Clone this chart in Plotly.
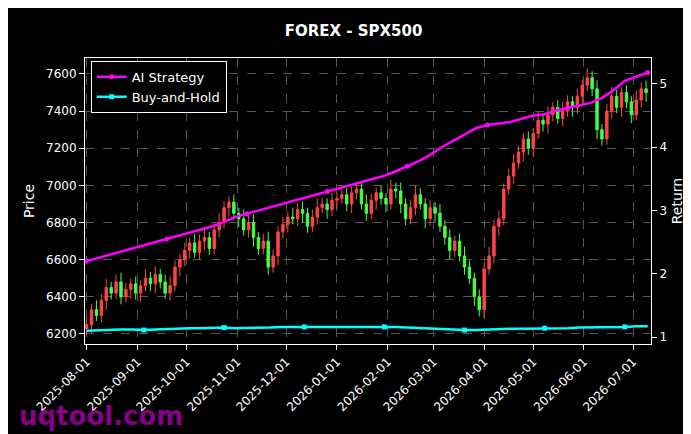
import pandas as pd
import plotly.graph_objects as go

closes = [6250,6330,6300,6380,6450,6420,6480,6400,6440,6470,6420,
          6460,6500,6470,6520,6480,6420,6460,6560,6600,6650,
          6690,6640,6700,6720,6660,6760,6800,6880,6910,6850,
          6820,6760,6800,6720,6660,6700,6560,6620,6750,6790,
          6830,6820,6870,6850,6780,6830,6880,6900,6870,6920,
          6930,6950,6900,6960,6980,6900,6850,6920,6960,6930,6900,
          6980,6970,6900,6820,6880,6950,6900,6820,6880,
          6850,6780,6720,6650,6700,6620,6560,6500,6400,6330,
          6550,6620,6780,6820,6980,7050,7120,7180,7250,7200,
          7280,7350,7330,7380,7420,7360,7400,7450,7420,7480,7540,
          7580,7520,7300,7250,7400,7480,7420,7500,7450,7380,
          7460,7520,7500]
wicks = [40,30,50,35,45,30,40,50,35,30]
ai_ret = [2.20,2.25,2.30,2.35,2.40,2.45,2.50,2.55,2.60,2.65,
          2.70,2.75,2.82,2.90,2.95,3.00,3.05,3.10,3.15,3.20,
          3.25,3.30,3.35,3.40,3.45,3.50,3.55,3.62,3.70,3.78,
          3.88,4.00,4.10,4.20,4.30,4.35,4.38,4.40,4.45,4.50,
          4.52,4.58,4.62,4.66,4.70,4.78,4.90,5.05,5.12,5.18]
bh_ret = [1.10,1.11,1.11,1.12,1.12,1.11,1.12,1.13,1.13,1.14,
          1.14,1.15,1.15,1.14,1.14,1.15,1.15,1.16,1.16,1.16,
          1.16,1.17,1.17,1.16,1.17,1.17,1.16,1.16,1.15,1.14,
          1.13,1.12,1.12,1.11,1.11,1.12,1.12,1.13,1.13,1.13,
          1.14,1.14,1.14,1.15,1.15,1.15,1.16,1.16,1.17,1.17]

dates = pd.date_range("2025-08-01", periods=len(closes), freq="3D")
opens = [closes[0] - 20] + closes[:-1]
highs = [max(o, c) + wicks[i % len(wicks)] for i, (o, c) in enumerate(zip(opens, closes))]
lows = [min(o, c) - wicks[(i + 3) % len(wicks)] for i, (o, c) in enumerate(zip(opens, closes))]
ldates = pd.date_range("2025-08-01", periods=len(ai_ret), freq="7D")

fig = go.Figure()
fig.add_trace(go.Candlestick(x=dates, open=opens, high=highs, low=lows, close=closes,
    increasing=dict(line=dict(color="#ff4444", width=1), fillcolor="#ff4444"),
    decreasing=dict(line=dict(color="#44ff44", width=1), fillcolor="#44ff44"),
    showlegend=False, whiskerwidth=0))
fig.add_trace(go.Scatter(x=ldates, y=ai_ret, name="AI Strategy", yaxis="y2",
    mode="lines+markers", line=dict(color="#ff00ff", width=2.5),
    marker=dict(size=5, maxdisplayed=8)))
fig.add_trace(go.Scatter(x=ldates, y=bh_ret, name="Buy-and-Hold", yaxis="y2",
    mode="lines+markers", line=dict(color="#00ffff", width=2.5),
    marker=dict(size=5, symbol="square", maxdisplayed=8)))

ax = dict(showline=True, linecolor="white", mirror=True, ticks="outside", tickcolor="white",
          gridcolor="#555", griddash="dash", zeroline=False, color="white", automargin=False)
fig.update_layout(
    width=691, height=434, paper_bgcolor="black", plot_bgcolor="black",
    font=dict(family="DejaVu Sans", color="white", size=12),
    title=dict(text="<b>FOREX - SPX500</b>", x=0.5, y=0.96, font=dict(size=15)),
    margin=dict(l=77, r=48, t=50, b=98),
    xaxis=dict(**ax, range=["2025-07-31", "2026-07-12"], rangeslider=dict(visible=False),
               tickvals=pd.date_range("2025-08-01", "2026-07-01", freq="MS"),
               tickformat="%Y-%m-%d", tickangle=-45),
    yaxis=dict(**ax, range=[6146, 7686], dtick=200, title=dict(text="Price", standoff=8)),
    yaxis2=dict(overlaying="y", side="right", range=[0.89, 5.41], dtick=1, showgrid=False,
                color="white", ticks="outside", tickcolor="white", automargin=False,
                title=dict(text="Return", standoff=6)),
    legend=dict(x=0.01, y=0.99, bgcolor="black", bordercolor="white", borderwidth=1,
                font=dict(size=13)),
)
fig.add_annotation(text="<b>uqtool.com</b>", xref="paper", yref="paper", x=-0.12, y=-0.31,
    xanchor="left", yanchor="bottom", showarrow=False,
    font=dict(size=26, color="rgba(160,0,160,0.85)"))
fig.write_html("out.html")
